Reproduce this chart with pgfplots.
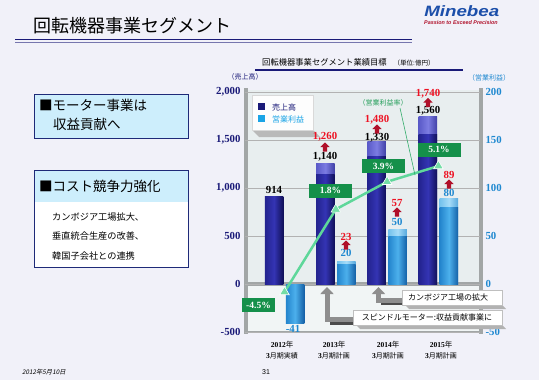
\documentclass[border=0pt]{standalone}
\usepackage{pgfplots}
\pgfplotsset{compat=1.18}
\usepackage{fontspec}
\setmainfont{Liberation Serif}
\newfontfamily\jp{Noto Sans CJK JP}
\newfontfamily\jpi[FakeSlant=0.2]{Noto Sans CJK JP}
\newfontfamily\ls{Liberation Sans}
\usetikzlibrary{arrows.meta}
\definecolor{navy}{HTML}{1A1A78}
\definecolor{logob}{HTML}{1C4FAA}
\definecolor{pblue}{HTML}{1E88D0}
\definecolor{lblue}{HTML}{1AA4E6}
\definecolor{tgreen}{HTML}{15904A}
\definecolor{lgreen}{HTML}{5ED79A}
\definecolor{mgreen}{HTML}{74DDA6}
\definecolor{redt}{HTML}{EE1122}
\definecolor{reda}{HTML}{B0102A}
\definecolor{boxcyan}{HTML}{CDEEFC}
\definecolor{bordnavy}{HTML}{1E2A78}
\definecolor{bg}{HTML}{F1F1F9}
\definecolor{wall}{HTML}{E8EEEF}
\definecolor{wallg}{HTML}{A2A6A6}
\definecolor{arrg}{HTML}{8E8E8E}
\definecolor{sb1}{HTML}{23238E}
\definecolor{sb2}{HTML}{3434B4}
\definecolor{sb3}{HTML}{101058}
\definecolor{st1}{HTML}{5A5AC8}
\definecolor{st2}{HTML}{7C7CE2}
\definecolor{st3}{HTML}{4040A6}
\definecolor{pb1}{HTML}{2384CC}
\definecolor{pb2}{HTML}{4CB0EC}
\definecolor{pb3}{HTML}{1460A6}
\definecolor{pt1}{HTML}{74C2EC}
\definecolor{pt2}{HTML}{A6DCF8}
\definecolor{pt3}{HTML}{56A8DC}
\pgfplotsset{
  salesbase/.style={ybar, bar width=18.5pt, bar shift=-10.5pt, draw=none, left color=sb1, right color=sb3, middle color=sb2},
  salestop/.style={ybar, bar width=18.5pt, bar shift=-10.5pt, draw=none, left color=st1, right color=st3, middle color=st2},
  profbase/.style={ybar, bar width=18.5pt, bar shift=10.5pt, draw=none, left color=pb1, right color=pb3, middle color=pb2},
  proftop/.style={ybar, bar width=18.5pt, bar shift=10.5pt, draw=none, left color=pt1, right color=pt3, middle color=pt2},
}
\newcommand{\uparr}[2]{\fill[reda] (#1-2.2,#2+4.5) -- (#1-2.2,#2) -- (#1-4.6,#2) -- (#1,#2-4.5) -- (#1+4.6,#2) -- (#1+2.2,#2) -- (#1+2.2,#2+4.5) -- cycle;}
\newcommand{\vfont}{\bfseries\fontsize{10.8}{10.8}\selectfont}
\begin{document}
\begin{tikzpicture}
\begin{scope}[x=1pt,y=-1pt]
\useasboundingbox (0,0) rectangle (539,380);
\fill[bg] (0,0) rectangle (539,380);
% title
\node[anchor=west, inner sep=0, font=\jp\fontsize{18}{18}\selectfont] at (33,26) {回転機器事業セグメント};
\draw[navy, line width=1.8pt] (15,39.5) -- (412,39.5);
\draw[navy!60, line width=0.6pt] (15,42.3) -- (412,42.3);
% logo
\node[anchor=west, inner sep=0, font=\ls\bfseries\itshape\fontsize{15}{15}\selectfont, text=logob, xscale=1.25] at (424,11) {Minebea};
\node[anchor=west, inner sep=0, font=\ls\bfseries\itshape\fontsize{5.4}{5.4}\selectfont, text=reda] at (424,22.5) {Passion to Exceed Precision};
% chart title
\node[anchor=west, inner sep=0, font=\jp\fontsize{8.3}{8.3}\selectfont] at (262,62) {回転機器事業セグメント業績目標\hspace{7pt}{\fontsize{6.5}{6.5}\selectfont （単位:億円）}};
\draw[navy, line width=1.2pt] (255,70) -- (463,70);
\node[font=\jp\fontsize{7}{7}\selectfont, text=navy, inner sep=0] at (245,77) {（売上高）};
\node[font=\jp\fontsize{7}{7}\selectfont, text=pblue, inner sep=0] at (489,78) {（営業利益）};
% left boxes
\draw[bordnavy, fill=boxcyan, line width=1pt] (34,94) rectangle (188,138);
\node[anchor=west, inner sep=0, font=\jp\fontsize{13.5}{13.5}\selectfont] at (39,105.5) {■モーター事業は};
\node[anchor=west, inner sep=0, font=\jp\fontsize{13.5}{13.5}\selectfont] at (53,124) {収益貢献へ};
\fill[white] (34,170) rectangle (188,267);
\fill[boxcyan] (34,170) rectangle (188,202);
\draw[bordnavy, line width=1pt] (34,170) rectangle (188,267);
\node[anchor=west, inner sep=0, font=\jp\fontsize{13.5}{13.5}\selectfont] at (39,186) {■コスト競争力強化};
\node[anchor=west, inner sep=0, font=\jp\fontsize{9.2}{9.2}\selectfont] at (52,217) {カンボジア工場拡大、};
\node[anchor=west, inner sep=0, font=\jp\fontsize{9.2}{9.2}\selectfont] at (52,236.5) {垂直統合生産の改善、};
\node[anchor=west, inner sep=0, font=\jp\fontsize{9.2}{9.2}\selectfont] at (52,256) {韓国子会社との連携};
% chart walls
\fill[wall] (246,90) rectangle (481,332);
\fill[wall!60!white] (246,284) rectangle (481,332);
\draw[wallg, line width=3.5pt] (246,88) -- (246,334);
\draw[wallg, line width=3.5pt] (481,88) -- (481,334);
\draw[wallg, line width=3.5pt] (246,284) -- (481,284);
\draw[wallg, line width=2.5pt] (246,332) -- (481,332);
% category labels
\foreach \x/\y/\t in {282/2012/実績,334/2013/計画,388/2014/計画,441/2015/計画}{
  \node[inner sep=0, font=\fontsize{7.5}{7.5}\selectfont] at (\x,345) {\textbf{\y}{\jp 年}};
  \node[inner sep=0, font=\jp\fontsize{7}{7}\selectfont] at (\x,356) {{\bfseries\fontsize{7.5}{7.5}\selectfont\rmfamily 3}月期\t};
}
% footer
\node[anchor=west, inner sep=0, font=\jpi\fontsize{6.3}{6.3}\selectfont] at (22,372) {2012年5月10日};
\node[inner sep=0, font=\ls\fontsize{7}{7}\selectfont] at (266,372) {31};
\end{scope}

% ---------- sales (left axis): light bar = target, dark bar = plan
\begin{axis}[
  at={(245pt,-332pt)}, anchor=south west, scale only axis,
  width=235pt, height=240pt,
  xmin=-0.77, xmax=3.81, ymin=-500, ymax=2000,
  axis line style={draw=none},
  xtick=\empty,
  ytick={-500,0,500,1000,1500,2000},
  ymajorgrids, grid style={color=gray!60, line width=0.6pt},
  major tick length=0pt,
  /pgf/number format/1000 sep={,},
  /pgf/number format/assume math mode=true,
  yticklabel style={font=\vfont, text=navy, xshift=-1pt},
]
\addplot[salestop] coordinates {(1,1260)};
\addplot[salestop] coordinates {(2,1480)};
\addplot[salestop] coordinates {(3,1740)};
\addplot[salesbase] coordinates {(0,914)};
\addplot[salesbase] coordinates {(1,1140)};
\addplot[salesbase] coordinates {(2,1330)};
\addplot[salesbase] coordinates {(3,1560)};
\end{axis}

% ---------- profit (right axis)
\begin{axis}[
  at={(245pt,-332pt)}, anchor=south west, scale only axis,
  width=235pt, height=240pt,
  xmin=-0.77, xmax=3.81, ymin=-50, ymax=200,
  axis x line=none, axis y line*=right, axis line style={draw=none},
  ytick={-50,0,50,100,150,200},
  major tick length=0pt,
  /pgf/number format/assume math mode=true,
  yticklabel style={font=\vfont, text=pblue, xshift=2pt},
]
\addplot[proftop] coordinates {(1,23)};
\addplot[proftop] coordinates {(2,57)};
\addplot[proftop] coordinates {(3,89)};
\addplot[profbase] coordinates {(0,-41)};
\addplot[profbase] coordinates {(1,20)};
\addplot[profbase] coordinates {(2,50)};
\addplot[profbase] coordinates {(3,80)};
\end{axis}

% ---------- operating margin (hidden axis)
\begin{axis}[
  at={(245pt,-332pt)}, anchor=south west, scale only axis,
  width=235pt, height=240pt,
  xmin=-0.77, xmax=3.81, ymin=-7.55, ymax=10.74,
  hide axis, clip=false,
]
\addplot[lgreen, line width=2.5pt, mark=triangle*, mark size=5.5pt, mark options={fill=mgreen, draw=white, line width=0.6pt}] coordinates {(0,-4.5) (1,1.8) (2,3.9) (3,5.1)};
\end{axis}

\begin{scope}[x=1pt,y=-1pt]
% legend
\fill[gray!55] (252,130) -- (313,130) -- (320,137) -- (259,137) -- cycle;
\fill[white!90!wall, draw=gray!30] (252,95) rectangle (313,130);
\fill[navy] (258,103) rectangle (265,110);
\fill[lblue] (258,115) rectangle (265,122);
\node[anchor=west, inner sep=0, font=\jp\fontsize{8}{8}\selectfont, text=navy] at (272,107) {売上高};
\node[anchor=west, inner sep=0, font=\jp\fontsize{8}{8}\selectfont, text=lblue] at (272,119) {営業利益};
% sales labels
\node[font=\vfont] at (274,190) {914};
\node[font=\vfont] at (325,156.7) {1,140};
\uparr{325}{147}
\node[font=\vfont, text=redt] at (325,136.7) {1,260};
\node[font=\vfont] at (377,138) {1,330};
\uparr{377}{129}
\node[font=\vfont, text=redt] at (377,119.3) {1,480};
\node[font=\vfont] at (428,110.7) {1,560};
\uparr{428}{102.5}
\node[font=\vfont, text=redt] at (428,93.3) {1,740};
% profit labels
\node[font=\vfont, text=pblue] at (293,329) {-41};
\node[font=\vfont, text=pblue] at (346,253) {20};
\uparr{346}{245}
\node[font=\vfont, text=redt] at (346,236.7) {23};
\node[font=\vfont, text=pblue] at (397,221.7) {50};
\uparr{397}{212}
\node[font=\vfont, text=redt] at (397,203) {57};
\node[font=\vfont, text=pblue] at (449,192.7) {80};
\uparr{449}{184}
\node[font=\vfont, text=redt] at (449,175) {89};
% margin labels
\node[font=\jp\fontsize{7}{7}\selectfont, text=tgreen!80!lgreen, inner sep=0] at (383,103) {（営業利益率）};
\draw[tgreen!60!lgreen, line width=0.6pt] (400,108) -- (415,175);
\foreach \cx/\cy/\w/\t in {258.5/305/33/-4.5\%, 330.5/190.5/43/1.8\%, 383.5/166/43/3.9\%, 439/149.5/43/5.1\%}{
  \node[fill=tgreen, text=white, font=\bfseries\fontsize{9.5}{9.5}\selectfont, minimum width=\w pt, minimum height=14pt, inner sep=0] at (\cx,\cy) {\t};
}
% gray arrows and callouts
\draw[black!70, line width=3pt] (330,323) -- (356,323);
\draw[black!70, line width=3pt] (381,303) -- (405,303);
\draw[arrg, line width=5pt, -{Triangle[width=13pt,length=7pt]}] (356,319) -- (327,319) -- (327,287);
\draw[arrg, line width=5pt, -{Triangle[width=13pt,length=7pt]}] (405,300) -- (378.5,300) -- (378.5,287);
\fill[gray!60] (405,305) -- (502,305) -- (506,309) -- (409,309) -- cycle;
\fill[white, draw=gray!50] (402,290) rectangle (502,305);
\node[font=\jp\fontsize{8}{8}\selectfont, inner sep=0] at (448,297.5) {カンボジア工場の拡大};
\fill[gray!60] (356,325) -- (502,325) -- (506,329) -- (360,329) -- cycle;
\fill[white, draw=gray!50] (353,310) rectangle (502,325);
\node[font=\jp\fontsize{8}{8}\selectfont, inner sep=0] at (427,317.5) {スピンドルモーター:収益貢献事業に};
\end{scope}
\end{tikzpicture}
\end{document}
